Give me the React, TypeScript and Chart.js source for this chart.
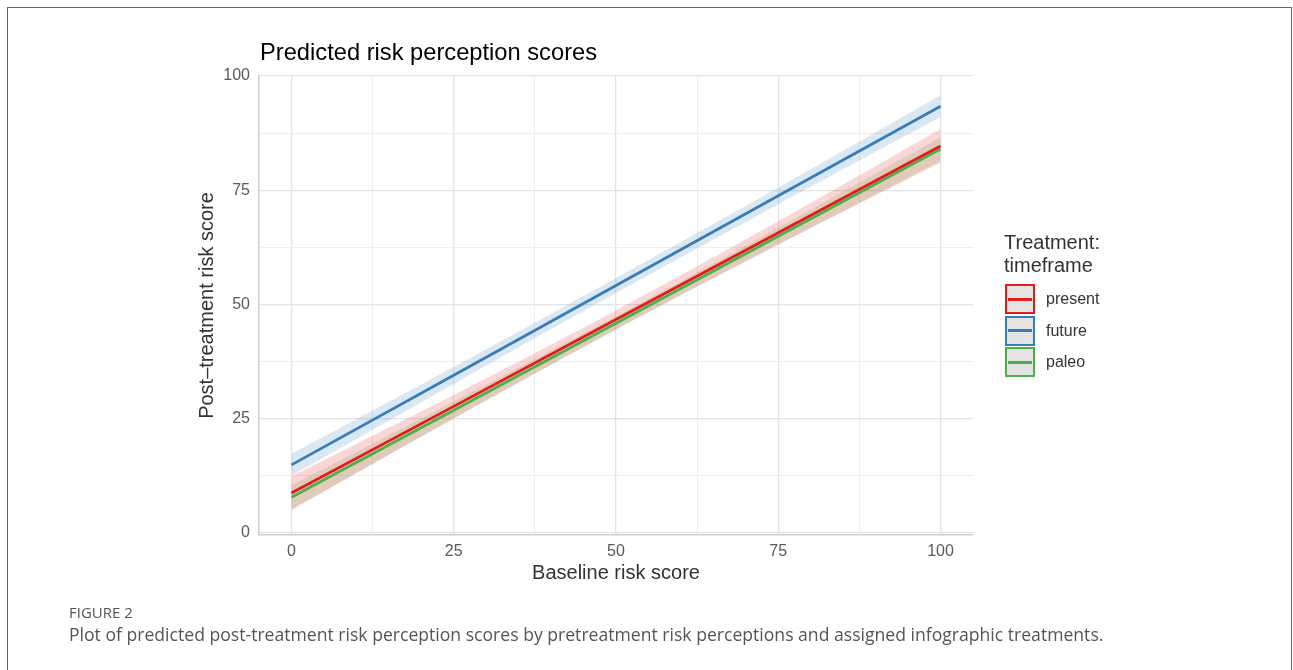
import React, { useEffect, useRef } from "react";
import { Chart, registerables } from "chart.js";

Chart.register(...registerables);

const xValues = [0, 25, 50, 75, 100];
const seriesNames = ["present", "future", "paleo"];
const seriesColors = ["#e41a1c", "#377eb8", "#4daf4a"];
const bandColors = ["rgba(228,26,28,0.18)", "rgba(55,126,184,0.18)", "rgba(77,175,74,0.18)"];

const presentFit = [8.75, 27.7, 46.7, 65.7, 84.7];
const presentUpper = [12.4, 30.2, 48.7, 68.2, 88.4];
const presentLower = [5.0, 25.1, 44.6, 63.1, 81.0];

const futureFit = [14.9, 34.5, 54.15, 73.8, 93.4];
const futureUpper = [17.3, 36.3, 55.8, 75.6, 95.8];
const futureLower = [12.5, 32.6, 52.5, 71.9, 91.0];

const paleoFit = [7.8, 26.85, 45.9, 64.95, 84.0];
const paleoUpper = [10.4, 28.7, 47.4, 66.8, 86.6];
const paleoLower = [5.2, 25.0, 44.4, 63.1, 81.4];

const gridValues = [0, 12.5, 25, 37.5, 50, 62.5, 75, 87.5, 100];
const majorTicks = [0, 25, 50, 75, 100];

const FONT = "'Liberation Sans', Arial, Helvetica, sans-serif";

export default function App() {
  const ref = useRef<HTMLCanvasElement | null>(null);

  useEffect(() => {
    if (!ref.current) return;
    const fits = [presentFit, futureFit, paleoFit];
    const uppers = [presentUpper, futureUpper, paleoUpper];
    const lowers = [presentLower, futureLower, paleoLower];
    const pts = (arr: number[]) => arr.map((y, i) => ({ x: xValues[i], y }));
    const datasets: any[] = [];
    for (let s = 0; s < 3; s++) {
      datasets.push({
        label: seriesNames[s] + " upper",
        data: pts(uppers[s]),
        borderWidth: 0,
        pointRadius: 0,
        fill: false,
        order: 10,
        tension: 0.3,
      });
      datasets.push({
        label: seriesNames[s] + " lower",
        data: pts(lowers[s]),
        borderWidth: 0,
        pointRadius: 0,
        fill: "-1",
        backgroundColor: bandColors[s],
        order: 10,
        tension: 0.3,
      });
    }
    for (let s = 0; s < 3; s++) {
      datasets.push({
        label: seriesNames[s],
        data: pts(fits[s]),
        borderColor: seriesColors[s],
        borderWidth: 2.8,
        pointRadius: 0,
        fill: false,
        order: 1,
      });
    }
    const isMajor = (v: number) => majorTicks.includes(v);
    const chart = new Chart(ref.current, {
      type: "line",
      data: { datasets },
      options: {
        animation: false,
        responsive: false,
        devicePixelRatio: 1,
        layout: { padding: { left: 190, right: 320, top: 76, bottom: 85 } },
        plugins: { legend: { display: false }, tooltip: { enabled: false }, title: { display: false } },
        scales: {
          x: {
            type: "linear",
            min: -5,
            max: 105,
            afterBuildTicks: (scale: any) => {
              scale.ticks = gridValues.map((v) => ({ value: v }));
            },
            afterFit: (scale: any) => {
              scale.height = 50;
            },
            ticks: {
              autoSkip: false,
              maxRotation: 0,
              padding: 7,
              color: "#5a5a5a",
              font: { family: FONT, size: 16 },
              callback: (v: any) => (isMajor(Number(v)) ? String(v) : ""),
            },
            grid: {
              drawTicks: false,
              color: (ctx: any) => (isMajor(ctx.tick?.value) ? "#e4e4e4" : "#eeeeee"),
              lineWidth: (ctx: any) => (isMajor(ctx.tick?.value) ? 1.3 : 1),
            },
            border: { display: true, color: "#cfcfcf", width: 1.5 },
            title: {
              display: true,
              text: "Baseline risk score",
              color: "#333333",
              font: { family: FONT, size: 20 },
              padding: { top: 0, bottom: 0 },
            },
          },
          y: {
            type: "linear",
            min: -0.45,
            max: 100,
            afterBuildTicks: (scale: any) => {
              scale.ticks = gridValues.map((v) => ({ value: v }));
            },
            afterFit: (scale: any) => {
              scale.width = 69;
            },
            ticks: {
              autoSkip: false,
              padding: 9,
              color: "#5a5a5a",
              font: { family: FONT, size: 16 },
              callback: (v: any) => (isMajor(Number(v)) ? String(v) : ""),
            },
            grid: {
              drawTicks: false,
              color: (ctx: any) => (isMajor(ctx.tick?.value) ? "#e4e4e4" : "#eeeeee"),
              lineWidth: (ctx: any) => (isMajor(ctx.tick?.value) ? 1.3 : 1),
            },
            border: { display: true, color: "#cfcfcf", width: 1.5 },
            title: {
              display: true,
              text: "Post\u2013treatment risk score",
              color: "#333333",
              font: { family: FONT, size: 20 },
              padding: { top: 5, bottom: 0 },
            },
          },
        },
      } as any,
    });
    return () => chart.destroy();
  }, []);

  return (
    <div style={{ position: "fixed", left: 0, top: 0, width: 1293, height: 670, background: "#fff", overflow: "hidden" }}>
      <div
        style={{
          position: "absolute",
          left: 7,
          top: 7,
          width: 1283,
          height: 700,
          borderLeft: "1.5px solid #666",
          borderTop: "1.5px solid #666",
          borderRight: "1.5px solid #666",
        }}
      />
      <canvas ref={ref} width={1293} height={670} style={{ position: "absolute", left: 0, top: 0 }} />
      <div
        style={{
          position: "absolute",
          left: 260,
          top: 38,
          fontFamily: FONT,
          fontSize: 23.7,
          lineHeight: "28px",
          color: "#000",
          whiteSpace: "nowrap",
        }}
      >
        Predicted risk perception scores
      </div>
      <div
        style={{
          position: "absolute",
          left: 1004,
          top: 231,
          fontFamily: FONT,
          fontSize: 20,
          lineHeight: "23px",
          color: "#333",
        }}
      >
        <div>Treatment:</div>
        <div>timeframe</div>
      </div>
      {seriesNames.map((name, i) => (
        <div key={name} style={{ position: "absolute", left: 1005, top: 284 + i * 31.5, height: 30, display: "flex", alignItems: "center" }}>
          <div
            style={{
              width: 26,
              height: 26,
              border: `2px solid ${seriesColors[i]}`,
              background: "#e3e3e3",
              position: "relative",
              boxSizing: "content-box",
            }}
          >
            <div style={{ position: "absolute", left: 1, right: 1, top: 11.5, height: 3, background: seriesColors[i] }} />
          </div>
          <div style={{ marginLeft: 11, fontFamily: FONT, fontSize: 16, color: "#333", whiteSpace: "nowrap" }}>{name}</div>
        </div>
      ))}
      <div
        style={{
          position: "absolute",
          left: 69,
          top: 602,
          fontFamily: "'Open Sans', sans-serif",
          fontSize: 15,
          color: "#555",
          whiteSpace: "nowrap",
        }}
      >
        FIGURE 2
      </div>
      <div
        style={{
          position: "absolute",
          left: 69,
          top: 622,
          fontFamily: "'Open Sans', sans-serif",
          fontSize: 17.6,
          color: "#555",
          whiteSpace: "nowrap",
        }}
      >
        Plot of predicted post-treatment risk perception scores by pretreatment risk perceptions and assigned infographic treatments.
      </div>
    </div>
  );
}
